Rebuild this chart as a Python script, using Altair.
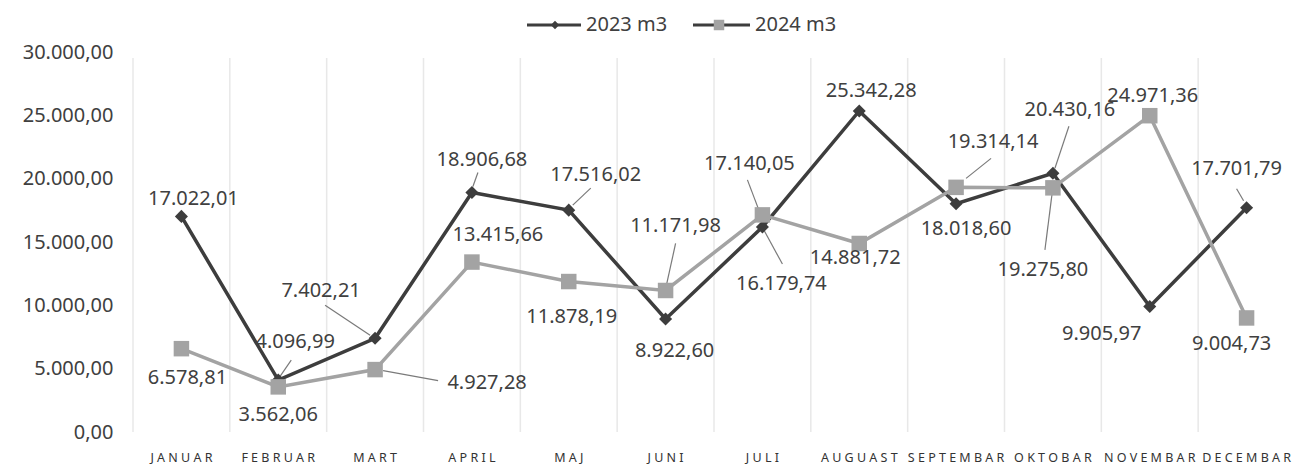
import altair as alt
import pandas as pd

# ---- data ----
months = ["JANUAR", "FEBRUAR", "MART", "APRIL", "MAJ", "JUNI", "JULI",
          "AUGUAST", "SEPTEMBAR", "OKTOBAR", "NOVEMBAR", "DECEMBAR"]
series_names = ["2023 m3", "2024 m3"]
values_2023 = [17022.01, 4096.99, 7402.21, 18906.68, 17516.02, 8922.60,
               16179.74, 25342.28, 18018.60, 20430.16, 9905.97, 17701.79]
values_2024 = [6578.81, 3562.06, 4927.28, 13415.66, 11878.19, 11171.98,
               17140.05, 14881.72, 19314.14, 19275.80, 24971.36, 9004.73]
y_ticks = [0, 5000, 10000, 15000, 20000, 25000, 30000]

# ---- label layout (pixel offsets of each data label from its point) ----
label_dx_2023 = [12, 17, -54, 10, 27, 9, 19, 12, 10, 17, -48, -10]
label_dy_2023 = [-17, -38, -47, -33, -35, 32, 57, -20, 25, -63, 27, -39]
label_dx_2024 = [6, 0, 112, 26, 3, 10, -13, -4, 37, -10, 3, -15]
label_dy_2024 = [29, 28, 13, -27, 35, -64, -51, 15, -45, 82, -20, 26]

# leader lines: (series, month index, x1, y1, x2, y2) pixel offsets from the point
leaders = [
    ("2023 m3", 1, 13, -20, 2, -4),
    ("2023 m3", 2, -50, -33, -5, -3),
    ("2023 m3", 3, 6, -20, 1, -6),
    ("2023 m3", 4, 22, -22, 4, -5),
    ("2023 m3", 6, 20, 37, 2, 4),
    ("2023 m3", 9, 16, -47, 2, -5),
    ("2023 m3", 11, -10, -19, -3, -7),
    ("2024 m3", 2, 8, 1, 63, 11),
    ("2024 m3", 5, 10, -47, 1, -6),
    ("2024 m3", 6, -15, -35, -4, -6),
    ("2024 m3", 8, 35, -29, 10, -9),
    ("2024 m3", 9, -8, 62, -1, 7),
]

rows = []
for s, vals, dxs, dys in [("2023 m3", values_2023, label_dx_2023, label_dy_2023),
                          ("2024 m3", values_2024, label_dx_2024, label_dy_2024)]:
    for m, v, dx, dy in zip(months, vals, dxs, dys):
        rows.append({"month": m, "series": s, "value": v, "dx": dx, "dy": dy})
df = pd.DataFrame(rows)

lead_rows = []
for k, (s, i, x1, y1, x2, y2) in enumerate(leaders):
    v = (values_2023 if s == "2023 m3" else values_2024)[i]
    lead_rows.append({"id": k, "order": 0, "month": months[i], "value": v, "ox": x1, "oy": y1})
    lead_rows.append({"id": k, "order": 1, "month": months[i], "value": v, "ox": x2, "oy": y2})
lead_df = pd.DataFrame(lead_rows)
grid_df = pd.DataFrame({"month": months})

FONT = "Noto Sans"
TXT = "#404040"
DARK = "#3d3d3d"
GRAY = "#a3a3a3"

x_scale = alt.Scale(domain=months, paddingInner=0, paddingOuter=0)
x_axis = alt.Axis(title=None, labelAngle=0, domain=False, ticks=False, grid=False,
                  labelFont=FONT, labelFontSize=12.5, labelColor="#333333",
                  labelPadding=19, labelOverlap=False,
                  labelExpr="join(split(datum.label, ''), ' ')")
y_scale = alt.Scale(domain=[0, 30000], nice=False)
y_axis = alt.Axis(title=None, values=y_ticks, format=",.2f", domain=False, ticks=False,
                  grid=False, labelFont=FONT, labelFontSize=20, labelColor=TXT,
                  labelPadding=20)

X = alt.X("month:N", sort=months, scale=x_scale, axis=x_axis)
Y = alt.Y("value:Q", scale=y_scale, axis=y_axis)

grid = alt.Chart(grid_df).mark_rule(color="#e8e8e8", strokeWidth=1.5).encode(
    x=alt.X("month:N", sort=months, scale=x_scale, axis=x_axis, bandPosition=0),
    y=alt.value(6), y2=alt.value(380))

lines = alt.Chart(df).mark_line(strokeWidth=3.5).encode(
    x=X, y=Y,
    stroke=alt.Stroke("series:N", scale=alt.Scale(domain=series_names, range=[DARK, GRAY]),
                      legend=None))

leader_lines = alt.Chart(lead_df).mark_line(
    color="#7a7a7a", strokeWidth=1.2,
    xOffset=alt.ExprRef("datum.ox"), yOffset=alt.ExprRef("datum.oy")).encode(
    x=X, y=Y, detail="id:N", order="order:Q")

points = alt.Chart(df).mark_point(filled=True, opacity=1).encode(
    x=X, y=Y,
    fill=alt.Fill("series:N", scale=alt.Scale(domain=series_names, range=[DARK, GRAY]),
                  legend=None),
    shape=alt.Shape("series:N", scale=alt.Scale(domain=series_names,
                                                range=["diamond", "square"]),
                    legend=None),
    size=alt.Size("series:N", scale=alt.Scale(domain=series_names, range=[170, 240]),
                  legend=None))

labels = alt.Chart(df).mark_text(
    font=FONT, fontSize=20, color=TXT,
    dx=alt.ExprRef("datum.dx"), dy=alt.ExprRef("datum.dy")).encode(
    x=X, y=Y, text=alt.Text("value:Q", format=",.2f"))

# ---- legend (drawn above the plot, centred like the original) ----
leg_df = pd.DataFrame({"series": series_names})
leg_layers = []
for idx, (x0, x1, xm, xt, shp, fill, msize) in enumerate([
        (394, 448, 422, 453, "diamond", DARK, 70),
        (560, 617, 586, 622, "square", GRAY, 110)]):
    one = leg_df.iloc[[idx]]
    leg_layers.append(alt.Chart(one).mark_rule(color=DARK, strokeWidth=3).encode(
        x=alt.value(x0), x2=alt.value(x1), y=alt.value(-27)))
    leg_layers.append(alt.Chart(one).mark_point(filled=True, opacity=1, shape=shp,
                                                color=fill, size=msize).encode(
        x=alt.value(xm), y=alt.value(-27)))
    leg_layers.append(alt.Chart(one).mark_text(
        align="left", baseline="middle", font=FONT, fontSize=20, color=TXT).encode(
        x=alt.value(xt), y=alt.value(-27), text="series:N"))

chart = alt.layer(grid, lines, leader_lines, points, labels, *leg_layers).properties(
    width=1162, height=380,
    padding={"left": 125, "top": 44, "right": 0, "bottom": 36},
    autosize=alt.AutoSizeParams(type="none"),
    background="white",
).configure(
    view={"stroke": None},
    locale={"number": {"decimal": ",", "thousands": ".", "grouping": [3],
                       "currency": ["", ""]}})

chart.save("out.html", embed_options={"renderer": "svg", "actions": False})
